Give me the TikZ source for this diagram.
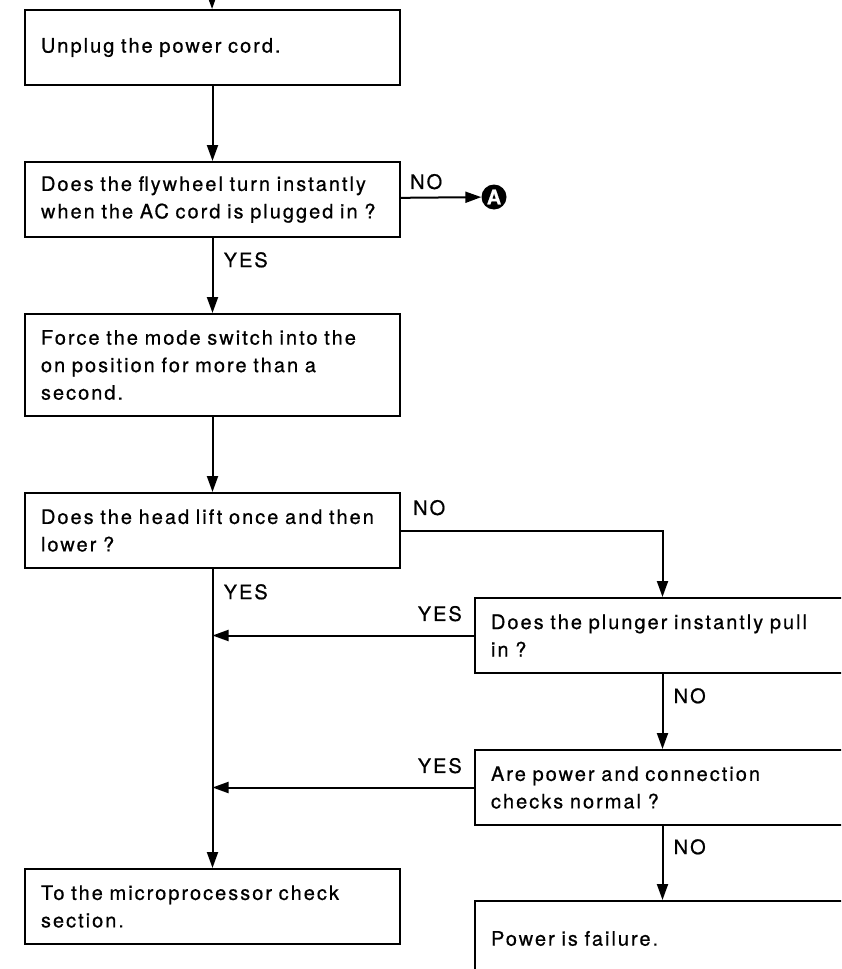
\documentclass[tikz,border=0pt]{standalone}
\usepackage{fontspec}
\setmainfont[LetterSpace=10,FakeBold=0.6]{TeX Gyre Heros}
\usetikzlibrary{arrows.meta,positioning}
\newcommand\fs{\fontsize{20}{27.5}\selectfont}
\tikzset{
  arr/.style={-{Triangle[length=16pt,width=11pt]},line width=2pt},
  box/.style={draw,line width=2pt,minimum width=375pt,minimum height=75pt,text width=343pt,inner xsep=16pt,inner ysep=0pt,align=left,font=\fs},
  lab/.style={inner sep=0pt,font=\fs},
  conn/.style={circle,fill=black,inner sep=0pt,minimum size=25pt,text=white,font=\fs\bfseries}
}

\begin{document}
\begin{tikzpicture}[x=1pt,y=-1pt,node distance=75pt]
  \useasboundingbox (0,0) rectangle (841,969);
  \clip (0,0) rectangle (841,969);
  \coordinate (in) at (212,0);
  \node[box,anchor=north west] (B1) at (24,9) {Unplug the power cord.};
  \node[box,below=of B1] (B2) {Does the flywheel turn instantly\\ when the AC cord is plugged in ?};
  \node[box,minimum height=102pt,below=of B2] (B3) {Force the mode switch into the\\ on position for more than a\\ second.};
  \node[box,below=of B3] (B4) {Does the head lift once and then\\ lower ?};
  \node[box,below=299pt of B4] (B8) {To the microprocessor check\\ section.};
  \node[box,anchor=north west] (B5) at (474,597) {Does the plunger instantly pull\\ in ?};
  \node[box,below=of B5] (B6) {Are power and connection\\ checks normal ?};
  \node[box,below=74pt of B6] (B7) {Power is failure.};
  \node[conn] (A) at (494,197) {A};
  \draw[arr] (in) -- (B1);
  \foreach \a/\b in {B1/B2,B2/B3,B3/B4,B4/B8,B5/B6,B6/B7}
    \draw[arr] (\a) -- (\b);
  \draw[arr] (B2) -- (A);
  \draw[arr] (B4.east) -| (B5.north);
  \draw[arr] (B5.west) -- (B5.west -| B4.south);
  \draw[arr] (B6.west) -- (B6.west -| B4.south);
  \node[lab,above right=10pt and 9pt of B2.east] (noA) {NO};
  \node[lab,below right=14pt and 11pt of B2.south] (yesB2) {YES};
  \node[lab,above right=15pt and 12pt of B4.east] (noB4) {NO};
  \node[lab,below right=15pt and 11pt of B4.south] (yesB4) {YES};
  \node[lab,above left=14pt and 12pt of B5.west] (yesB5) {YES};
  \node[lab,below right=14pt and 11pt of B5.south] (noB5) {NO};
  \node[lab,above left=14pt and 12pt of B6.west] (yesB6) {YES};
  \node[lab,below right=13pt and 11pt of B6.south] (noB6) {NO};
\end{tikzpicture}
\end{document}
